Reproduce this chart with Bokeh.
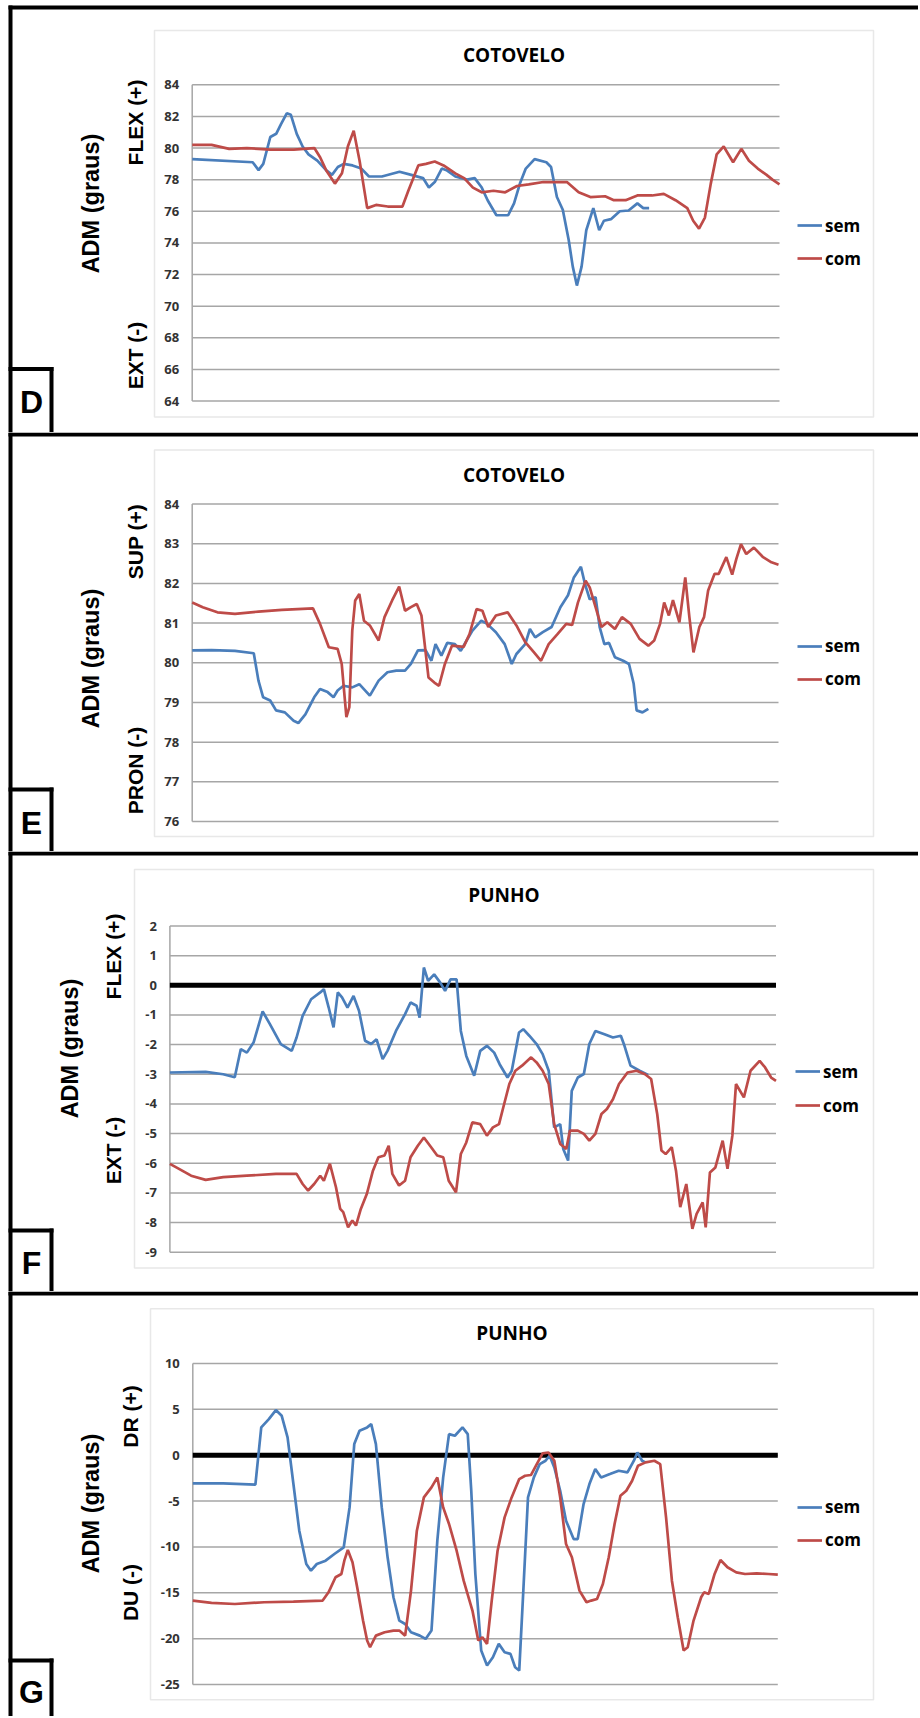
import math
from bokeh.plotting import figure
from bokeh.models import Range1d, Label, BoxAnnotation, Legend, LegendItem
from bokeh.core.properties import value
from bokeh.layouts import column
from bokeh.embed import file_html
from bokeh.resources import INLINE

# ---------------------------------------------------------------- data
# x = position along the recording (0..100 % of the plotted trial)
panel_letters = ["D", "E", "F", "G"]
titles = ["COTOVELO", "COTOVELO", "PUNHO", "PUNHO"]
adm_label = "ADM (graus)"
pos_labels = ["FLEX (+)", "SUP (+)", "FLEX (+)", "DR (+)"]
neg_labels = ["EXT (-)", "PRON (-)", "EXT (-)", "DU (-)"]
series_names = ["sem", "com"]

d_ticks = [64, 66, 68, 70, 72, 74, 76, 78, 80, 82, 84]
e_ticks = [76, 77, 78, 79, 80, 81, 82, 83, 84]
f_ticks = [-9, -8, -7, -6, -5, -4, -3, -2, -1, 0, 1, 2]
g_ticks = [-25, -20, -15, -10, -5, 0, 5, 10]

d_sem_x = [0, 10.3, 11.3, 12.1, 13.3, 14.3, 15.1, 16.1, 16.8, 17.8, 18.8, 19.8, 21.3, 22.8, 23.8,
           24.8, 25.8, 27.3, 28.8, 30.1, 32.3, 35.3, 37.3, 39.3, 40.3, 41.3, 42.5, 43.3, 44.8,
           46.8, 48.1, 49.3, 50.3, 51.8, 53.8, 54.8, 55.8, 56.8, 58.3, 60.3, 61.1, 62.1, 63.1,
           64.1, 64.8, 65.5, 66.3, 67.1, 68.3, 69.3, 70.1, 71.3, 72.8, 74.3, 75.8, 76.8, 77.8]
d_sem_y = [79.3, 79.1, 78.6, 79.0, 80.7, 80.9, 81.5, 82.2, 82.1, 80.9, 80.1, 79.6, 79.2, 78.6,
           78.3, 78.8, 79.0, 78.9, 78.7, 78.2, 78.2, 78.5, 78.3, 78.1, 77.5, 77.85, 78.7, 78.6,
           78.2, 78.0, 78.1, 77.5, 76.7, 75.75, 75.75, 76.5, 77.75, 78.7, 79.3, 79.1, 78.8, 76.9,
           76.1, 74.2, 72.5, 71.3, 72.5, 74.8, 76.2, 74.8, 75.4, 75.5, 76.0, 76.05, 76.5, 76.2, 76.2]
d_com_x = [0, 3.3, 6.3, 9.3, 13.3, 17.3, 20.8, 21.8, 22.8, 24.3, 25.5, 26.5, 27.5, 28.5, 29.8,
           31.3, 33.3, 35.8, 36.8, 38.5, 39.8, 41.3, 42.8, 44.8, 46.3, 47.8, 49.3, 51.3, 53.3,
           55.3, 57.3, 59.8, 63.8, 65.8, 67.8, 70.3, 71.8, 73.8, 75.8, 78.3, 80.3, 82.3, 84.3,
           85.3, 86.3, 87.3, 88.3, 89.3, 90.5, 92.1, 93.5, 94.8, 96.3, 97.8, 98.8, 100]
d_com_y = [80.2, 80.2, 79.95, 80.0, 79.9, 79.9, 80.0, 79.4, 78.6, 77.75, 78.4, 80.1, 81.1, 79.2,
           76.2, 76.4, 76.3, 76.3, 77.3, 78.9, 79.0, 79.15, 78.9, 78.4, 78.1, 77.5, 77.2, 77.3,
           77.2, 77.6, 77.7, 77.85, 77.85, 77.2, 76.9, 76.95, 76.7, 76.7, 77.0, 77.0, 77.1, 76.7,
           76.2, 75.4, 74.9, 75.6, 77.75, 79.6, 80.1, 79.1, 79.95, 79.2, 78.7, 78.3, 78.0, 77.7]

e_sem_x = [0, 3.3, 7.3, 10.5, 11.3, 12.1, 13.3, 14.3, 15.8, 17.3, 18.1, 19.3, 20.8, 21.8, 23.1,
           24.1, 24.8, 25.8, 27.3, 28.5, 30.3, 31.8, 33.3, 34.8, 36.3, 37.3, 38.5, 39.8, 40.8,
           41.5, 42.5, 43.5, 44.8, 45.8, 46.8, 47.8, 49.3, 50.3, 51.8, 53.3, 54.5, 55.3, 56.8,
           57.6, 58.5, 59.8, 61.3, 62.8, 64.1, 65.1, 66.3, 67.0, 67.8, 68.8, 69.5, 70.3, 71.1,
           72.1, 73.5, 74.5, 75.3, 75.8, 76.8, 77.8]
e_sem_y = [80.31, 80.32, 80.3, 80.24, 79.55, 79.13, 79.05, 78.8, 78.75, 78.54, 78.48, 78.7, 79.13,
           79.34, 79.26, 79.13, 79.3, 79.42, 79.38, 79.46, 79.17, 79.55, 79.76, 79.8, 79.8, 79.97,
           80.31, 80.32, 80.05, 80.47, 80.18, 80.5, 80.47, 80.3, 80.56, 80.81, 81.06, 80.98, 80.77,
           80.47, 79.97, 80.22, 80.47, 80.85, 80.64, 80.77, 80.9, 81.4, 81.7, 82.15, 82.42, 81.98,
           81.6, 81.65, 80.9, 80.47, 80.5, 80.14, 80.05, 79.97, 79.47, 78.8, 78.75, 78.84]
e_com_x = [0, 1.8, 4.3, 7.3, 11.3, 15.3, 20.6, 21.8, 23.3, 24.8, 25.5, 26.3, 26.8, 27.3, 27.8,
           28.5, 29.3, 30.3, 31.8, 32.8, 34.1, 35.3, 36.3, 37.3, 38.3, 39.1, 40.3, 41.3, 42.1,
           43.1, 44.3, 46.3, 47.3, 48.5, 49.5, 50.5, 51.8, 53.8, 55.3, 56.8, 58.3, 59.5, 60.8,
           62.3, 63.8, 64.8, 65.8, 67.1, 67.8, 68.8, 69.8, 70.8, 72.1, 73.3, 74.8, 76.3, 77.8,
           78.8, 79.8, 80.5, 81.3, 82.0, 83.1, 84.1, 84.8, 85.5, 86.5, 87.3, 88.0, 89.1, 89.8,
           91.1, 92.1, 92.8, 93.6, 94.5, 95.8, 97.3, 98.8, 100]
e_com_y = [81.52, 81.4, 81.27, 81.23, 81.29, 81.33, 81.37, 80.98, 80.39, 80.35, 79.97, 78.63,
           78.88, 80.81, 81.57, 81.73, 81.06, 80.94, 80.56, 81.15, 81.57, 81.92, 81.31, 81.4,
           81.48, 81.19, 79.63, 79.5, 79.42, 79.97, 80.43, 80.4, 80.72, 81.35, 81.31, 80.9, 81.19,
           81.27, 80.94, 80.52, 80.26, 80.05, 80.47, 80.72, 80.98, 80.95, 81.52, 82.07, 81.9,
           81.4, 80.9, 81.02, 80.85, 81.15, 80.98, 80.6, 80.43, 80.56, 80.98, 81.52, 81.19, 81.58,
           81.02, 82.15, 81.15, 80.26, 80.9, 81.15, 81.82, 82.24, 82.24, 82.66, 82.22, 82.61,
           82.99, 82.74, 82.9, 82.67, 82.53, 82.47]

f_sem_x = [0, 5.9, 8.8, 10.7, 11.7, 12.7, 13.8, 15.3, 16.5, 18.3, 20.1, 20.9, 21.9, 23.3, 24.8,
           25.4, 26.2, 27.0, 27.7, 28.4, 29.3, 30.3, 31.2, 32.2, 33.2, 34.1, 35.1, 35.9, 37.3,
           38.8, 39.7, 40.7, 41.2, 41.9, 42.6, 43.6, 44.6, 45.4, 46.3, 47.3, 48.0, 48.9, 50.2,
           51.2, 52.3, 53.5, 54.4, 55.7, 56.4, 57.6, 58.3, 59.3, 60.5, 61.5, 62.5, 63.4, 64.4,
           64.9, 65.7, 66.3, 67.3, 68.3, 69.2, 70.2, 71.7, 73.1, 74.4, 75.0, 76.0, 77.5, 78.9]
f_sem_y = [-2.94, -2.92, -3.0, -3.1, -2.15, -2.27, -1.93, -0.88, -1.31, -1.98, -2.21, -1.76,
           -1.03, -0.47, -0.24, -0.13, -0.75, -1.42, -0.24, -0.41, -0.75, -0.36, -0.86, -1.87,
           -1.98, -1.82, -2.49, -2.21, -1.54, -0.97, -0.58, -0.69, -1.09, 0.6, 0.15, 0.37, 0.09,
           -0.19, 0.2, 0.2, -1.54, -2.38, -3.05, -2.21, -2.04, -2.27, -2.66, -3.11, -2.88, -1.59,
           -1.48, -1.7, -1.98, -2.32, -2.88, -4.79, -4.68, -5.52, -5.91, -3.56, -3.11, -2.99,
           -1.98, -1.54, -1.65, -1.76, -1.7, -2.04, -2.71, -2.88, -3.02]
f_com_x = [0, 1.5, 3.5, 5.9, 8.8, 12.7, 17.5, 20.9, 21.9, 22.8, 23.8, 24.8, 25.4, 26.4, 27.4,
           28.1, 28.6, 29.4, 30.1, 30.7, 31.5, 32.5, 33.5, 34.4, 35.4, 36.1, 36.7, 37.8, 38.8,
           39.7, 40.9, 41.9, 43.1, 44.1, 45.1, 46.0, 47.2, 48.0, 48.9, 49.9, 51.2, 52.3, 53.3,
           54.3, 55.0, 56.0, 57.0, 58.1, 59.6, 60.5, 61.5, 62.5, 63.4, 64.4, 65.4, 66.0, 67.3,
           68.3, 69.2, 70.2, 71.2, 72.1, 73.1, 74.1, 75.5, 77.0, 78.4, 79.4, 80.4, 81.1, 81.8,
           82.8, 83.5, 84.2, 85.2, 86.2, 86.9, 87.9, 88.4, 89.1, 90.0, 91.2, 92.0, 92.8, 93.4,
           94.7, 95.8, 97.3, 98.2, 99.2, 100]
f_com_y = [-6.02, -6.19, -6.42, -6.56, -6.47, -6.42, -6.36, -6.36, -6.7, -6.92, -6.7, -6.42,
           -6.59, -6.02, -6.81, -7.54, -7.65, -8.16, -7.93, -8.1, -7.54, -7.03, -6.25, -5.8,
           -5.74, -5.41, -6.36, -6.75, -6.59, -5.8, -5.41, -5.13, -5.46, -5.74, -5.8, -6.59,
           -6.98, -5.69, -5.3, -4.62, -4.68, -5.07, -4.79, -4.68, -4.12, -3.33, -2.88, -2.71,
           -2.43, -2.6, -2.88, -3.33, -4.68, -5.35, -5.52, -4.9, -4.9, -5.01, -5.24, -5.01, -4.34,
           -4.17, -3.84, -3.33, -2.94, -2.88, -3.0, -3.16, -4.34, -5.57, -5.69, -5.46, -6.25,
           -7.48, -6.7, -8.21, -7.71, -7.32, -8.16, -6.31, -6.14, -5.24, -6.19, -5.07, -3.33,
           -3.78, -2.88, -2.55, -2.77, -3.11, -3.22]

g_sem_x = [0, 5.2, 10.7, 11.7, 13.0, 14.2, 15.2, 16.2, 17.2, 18.2, 19.4, 20.2, 21.2, 22.7, 24.2,
           25.8, 26.8, 27.6, 28.5, 29.8, 30.5, 31.3, 32.3, 33.3, 34.3, 35.3, 36.3, 37.3, 38.8,
           39.8, 40.8, 41.8, 42.8, 43.8, 44.8, 46.1, 47.0, 47.6, 48.3, 49.3, 50.3, 51.3, 52.3,
           53.3, 54.3, 55.1, 55.8, 56.5, 57.3, 58.3, 59.3, 60.3, 61.0, 61.8, 62.8, 63.8, 65.1,
           65.8, 66.8, 67.8, 68.8, 69.8, 71.3, 72.8, 74.3, 75.4, 76.0, 76.8, 77.4]
g_sem_y = [-3.07, -3.07, -3.2, 3.03, 3.94, 4.92, 4.3, 1.94, -3.14, -8.23, -11.86, -12.59, -11.86,
           -11.5, -10.77, -10.04, -5.69, 1.21, 2.67, 3.03, 3.39, 1.21, -5.69, -11.13, -15.49,
           -18.03, -18.4, -19.3, -19.67, -20.03, -19.12, -9.32, -2.42, 2.3, 2.12, 3.03, 2.3,
           -3.87, -12.95, -21.3, -22.93, -22.03, -20.57, -21.48, -21.66, -23.12, -23.48, -14.76,
           -4.6, -2.42, -0.97, -0.6, -0.06, -1.33, -3.87, -7.14, -9.14, -9.14, -5.32, -3.14,
           -1.51, -2.42, -2.06, -1.69, -1.87, -0.6, 0.3, -0.6, -0.78]
g_com_x = [0, 3.2, 7.2, 12.2, 17.2, 22.2, 23.2, 24.4, 25.4, 25.9, 26.5, 27.3, 28.1, 29.1, 29.8,
           30.3, 31.3, 32.8, 34.3, 35.3, 36.3, 37.3, 38.3, 39.5, 40.8, 41.8, 42.8, 43.8, 45.1,
           46.3, 47.8, 48.8, 49.5, 50.3, 51.1, 52.1, 53.3, 54.5, 55.8, 56.8, 57.8, 58.8, 59.8,
           60.8, 61.8, 62.8, 63.8, 64.8, 66.1, 67.3, 68.1, 69.1, 70.1, 71.1, 72.1, 73.1, 74.1,
           75.1, 76.1, 77.4, 78.9, 79.9, 80.9, 81.9, 82.9, 83.9, 84.6, 85.6, 86.9, 87.4, 88.2,
           89.2, 90.2, 91.4, 92.9, 94.4, 96.4, 98.4, 100]
g_com_y = [-15.85, -16.1, -16.22, -16.03, -15.96, -15.85, -14.95, -13.31, -12.95, -11.5, -10.33,
           -11.68, -14.4, -18.03, -20.21, -20.94, -19.67, -19.3, -19.12, -19.12, -19.67, -14.76,
           -8.23, -4.6, -3.51, -2.42, -5.69, -7.5, -10.41, -13.68, -16.94, -20.21, -19.85, -20.57,
           -15.85, -10.41, -6.78, -4.6, -2.6, -2.24, -2.16, -0.97, 0.2, 0.3, -0.6, -4.6, -9.68,
           -11.13, -14.76, -16.03, -15.85, -15.67, -14.04, -11.13, -7.5, -4.42, -3.87, -2.78,
           -1.15, -0.78, -0.6, -0.97, -6.78, -13.68, -17.67, -21.3, -20.94, -18.03, -15.49,
           -14.95, -15.13, -12.95, -11.42, -12.22, -12.77, -12.95, -12.88, -12.95, -13.02]

# ---------------------------------------------------------------- style / layout
BLUE = "#4a7ebb"
RED = "#be4b48"
GRID = "#a6a6a6"
PAGE_W = 918

# layout in page pixel coordinates
layout_specs = [
    dict(top=0, h=432, L=191.7, R=779.0, tv=84, tp=84.3, bv=64, bp=400.5,
         frame=(154, 30, 873, 416.5), title_xy=(513.5, 54), adm_x=90, adm_y=203,
         pl_x=135, pl_y=122, nl_y=355, leg_y=226.7, leg_gap=32, leg_x=797,
         box_top=366.5, let_y=401, zero=False, bar=(5, 9)),
    dict(top=432, h=419, L=191.7, R=778.0, tv=84, tp=503.5, bv=76, bp=821.0,
         frame=(154, 449.5, 873, 836), title_xy=(513.5, 474), adm_x=90, adm_y=658,
         pl_x=135, pl_y=541, nl_y=770, leg_y=647.3, leg_gap=32, leg_x=797,
         box_top=787, let_y=822, zero=False, bar=(432, 436)),
    dict(top=851, h=440, L=169.4, R=775.5, tv=2, tp=925.5, bv=-9, bp=1251.7,
         frame=(134, 869, 873, 1267.5), title_xy=(503.5, 894), adm_x=69, adm_y=1048,
         pl_x=113, pl_y=956, nl_y=1150, leg_y=1072.7, leg_gap=33, leg_x=795,
         box_top=1228, let_y=1262, zero=True, bar=(851, 855)),
    dict(top=1291, h=425, L=192.3, R=777.3, tv=10, tp=1363.0, bv=-25, bp=1684.0,
         frame=(150, 1308.3, 873, 1699.3), title_xy=(511.5, 1332.5), adm_x=90, adm_y=1503,
         pl_x=130, pl_y=1416, nl_y=1592, leg_y=1508.3, leg_gap=32, leg_x=797,
         box_top=1658, let_y=1691, zero=True, bar=(1291, 1295)),
]

all_ticks = [d_ticks, e_ticks, f_ticks, g_ticks]
all_data = [(d_sem_x, d_sem_y, d_com_x, d_com_y), (e_sem_x, e_sem_y, e_com_x, e_com_y),
            (f_sem_x, f_sem_y, f_com_x, f_com_y), (g_sem_x, g_sem_y, g_com_x, g_com_y)]


def scr_box(p, sy, x0, y0, x1, y1, **kw):
    p.add_layout(BoxAnnotation(left=x0, right=x1, top=sy(y0), bottom=sy(y1),
                               left_units="screen", right_units="screen",
                               top_units="screen", bottom_units="screen", **kw))


figs = []
for i, s in enumerate(layout_specs):
    ftop = s["top"]
    fbot = s["top"] + s["h"]
    # the frame fills the whole figure; the data ranges place the plot area
    ppx = (s["R"] - s["L"]) / 100.0
    x_start = 0 - s["L"] / ppx
    x_end = 100 + (PAGE_W - s["R"]) / ppx
    ppu = (s["bp"] - s["tp"]) / (s["tv"] - s["bv"])
    y_end = s["tv"] + (s["tp"] - ftop) / ppu
    y_start = s["bv"] - (fbot - s["bp"]) / ppu

    p = figure(width=PAGE_W, height=s["h"], x_range=Range1d(x_start, x_end),
               y_range=Range1d(y_start, y_end), output_backend="svg",
               toolbar_location=None, x_axis_location=None, y_axis_location=None,
               title=None, min_border=0, min_border_left=0, min_border_right=0,
               min_border_top=0, min_border_bottom=0)
    p.outline_line_color = None
    p.background_fill_color = "white"
    p.border_fill_color = "white"
    p.grid.visible = False

    def sy(Y, fbot=fbot):
        return fbot - Y

    ticks = all_ticks[i]
    n = len(ticks)
    # horizontal gridlines and value axis
    p.segment(x0=[0] * n, x1=[100] * n, y0=ticks, y1=ticks, line_color=GRID, line_width=1.5)
    p.segment(x0=[0], x1=[0], y0=[s["bv"]], y1=[s["tv"]], line_color=GRID, line_width=1.5)
    p.text(x=[0] * n, y=ticks, text=[str(t) for t in ticks], x_offset=-13,
           text_align="right", text_baseline="middle", text_font=value("Open Sans"),
           text_font_style="bold", text_font_size="13px", text_color="#333333")

    if s["zero"]:
        p.segment(x0=[0], x1=[100], y0=[0], y1=[0], line_color="black", line_width=5)

    sxd, syd, cxd, cyd = all_data[i]
    r_sem = p.line(sxd, syd, line_color=BLUE, line_width=2.7)
    r_com = p.line(cxd, cyd, line_color=RED, line_width=2.7)

    # gray chart-area frame
    fx0, fy0, fx1, fy1 = s["frame"]
    scr_box(p, sy, fx0, fy0, fx1, fy1, fill_alpha=0, line_color="#b3b3b3", line_width=1.5)

    # black panel borders and letter box
    blk = dict(fill_color="black", fill_alpha=1, line_alpha=0)
    b0, b1 = s["bar"]
    scr_box(p, sy, 8, b0, 920, b1, **blk)
    scr_box(p, sy, 8, b0, 12, fbot, **blk)
    scr_box(p, sy, 8, s["box_top"], 53, s["box_top"] + 4, **blk)
    scr_box(p, sy, 49, s["box_top"], 53, fbot, **blk)

    p.add_layout(Label(x=31, y=sy(s["let_y"]), x_units="screen", y_units="screen",
                       text=panel_letters[i], text_font="Liberation Sans",
                       text_font_style="bold", text_font_size="32px",
                       text_align="center", text_baseline="middle", text_color="black"))

    tx, ty = s["title_xy"]
    p.add_layout(Label(x=tx, y=sy(ty), x_units="screen", y_units="screen",
                       text=titles[i], text_font="Open Sans", text_font_style="bold",
                       text_font_size="19px", text_align="center", text_baseline="middle",
                       text_color="black"))

    for txt, X, Y, size in [(adm_label, s["adm_x"], s["adm_y"], "23.5px"),
                            (pos_labels[i], s["pl_x"], s["pl_y"], "21px"),
                            (neg_labels[i], s["pl_x"], s["nl_y"], "21px")]:
        p.add_layout(Label(x=X, y=sy(Y), x_units="screen", y_units="screen",
                           text=txt, angle=math.pi / 2, text_font="Liberation Sans",
                           text_font_style="bold", text_font_size=size,
                           text_align="center", text_baseline="middle", text_color="black"))

    gh = 22
    leg = Legend(items=[LegendItem(label=series_names[0], renderers=[r_sem]),
                        LegendItem(label=series_names[1], renderers=[r_com])],
                 location=(s["leg_x"], sy(s["leg_y"] + s["leg_gap"] + gh / 2)),
                 orientation="vertical", padding=0, margin=0,
                 spacing=s["leg_gap"] - gh, glyph_width=25, glyph_height=gh,
                 label_height=gh, label_standoff=3, border_line_color=None,
                 background_fill_alpha=0, label_text_font="Open Sans",
                 label_text_font_style="bold", label_text_font_size="17px",
                 label_text_color="black", label_text_baseline="middle")
    p.add_layout(leg)
    figs.append(p)

page = column(*figs, spacing=0)
open("out.html", "w").write(file_html(page, INLINE))
